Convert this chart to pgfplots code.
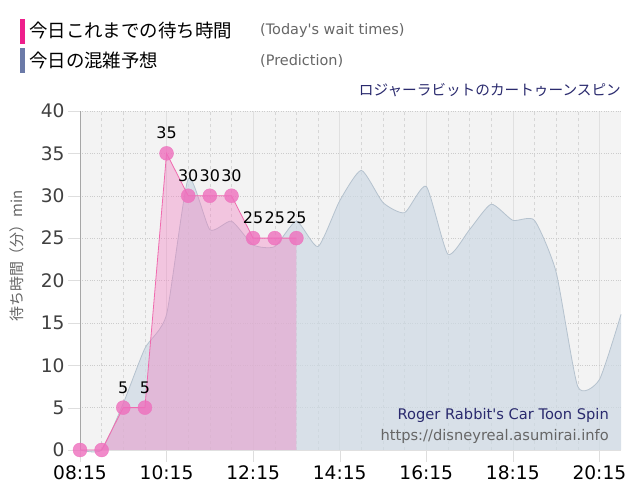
\documentclass[border=0pt]{standalone}
\usepackage{pgfplots}
\pgfplotsset{compat=1.18}
\usepackage{fontspec}
\setmainfont{DejaVu Sans}[Ligatures=TeXOff]
\newfontfamily\jp{Noto Sans CJK JP}

\definecolor{bgc}{HTML}{F3F3F3}
\definecolor{predfill}{HTML}{CDD9E4}
\definecolor{predline}{HTML}{B5C2CE}
\definecolor{actfill}{HTML}{F27CBF}
\definecolor{actline}{HTML}{F06AAE}
\definecolor{actmark}{HTML}{EE6FBD}
\definecolor{legpink}{HTML}{EE1F8C}
\definecolor{legblue}{HTML}{6B7AA8}
\definecolor{navy}{HTML}{2A2A6E}
\definecolor{txtgray}{HTML}{666666}

\begin{document}
\begin{tikzpicture}[x=1bp,y=1bp]
\path[use as bounding box, fill=white] (0,0) rectangle (640,500);

% header legend
\fill[legpink] (20,456) rectangle (25,481);
\fill[legblue] (20,427) rectangle (25,452);
\node[anchor=west, inner sep=0, font=\jp\fontsize{18.5}{20}\selectfont] at (29,469) {今日これまでの待ち時間};
\node[anchor=west, inner sep=0, font=\fontsize{14.5}{16}\selectfont, text=txtgray] at (260,469) {(Today's wait times)};
\node[anchor=west, inner sep=0, font=\jp\fontsize{18.5}{20}\selectfont] at (29,439) {今日の混雑予想};
\node[anchor=west, inner sep=0, font=\fontsize{14.5}{16}\selectfont, text=txtgray] at (260,439) {(Prediction)};
\node[anchor=east, inner sep=0, font=\jp\fontsize{14.7}{16}\selectfont, text=navy] at (621,410) {ロジャーラビットのカートゥーンスピン};
\node[rotate=90, inner sep=0, font=\jp\fontsize{15}{17}\selectfont, text=txtgray] at (17,244) {待ち時間（分）min};

\begin{axis}[
    at={(80bp,50bp)}, anchor=south west,
    scale only axis,
    width=541bp, height=339bp,
    xmin=8.25, xmax=20.75,
    ymin=0, ymax=40,
    clip=false,
    axis background/.style={fill=bgc},
    axis x line*=bottom,
    axis y line*=left,
    axis line style={-},
    x axis line style={draw=black!12},
    y axis line style={draw=black!35},
    xtick={8.25,10.25,12.25,14.25,16.25,18.25,20.25},
    xticklabels={08:15,10:15,12:15,14:15,16:15,18:15,20:15},
    minor x tick num=3,
    ytick={0,5,...,40},
    tick align=outside,
    major tick length=12bp,
    minor tick length=0pt,
    tick style={draw=black!13},
    /pgf/number format/assume math mode=true,
    x tick label style={font=\fontsize{18.7}{20}\selectfont, text=black},
    y tick label style={font=\fontsize{18.7}{20}\selectfont, text=black!75},
    xmajorgrids, xminorgrids, ymajorgrids,
    major x grid style={draw=black!12},
    minor x grid style={draw=black!16, dashed},
    y grid style={draw=black!20, dotted},
]

% prediction
\pgfplotstableread{
t   v
8.25 0
8.75 0
9.25 5.5
9.75 12
10.25 16
10.75 32
11.25 26
11.75 27
12.25 24.2
12.75 24
13.25 27
13.75 24
14.25 29.4
14.75 33
15.25 29.2
15.75 28
16.25 31.1
16.75 23.1
17.25 26
17.75 29
18.25 27.1
18.75 27.1
19.25 21
19.75 7.5
20.25 8.3
20.75 16
}\pred
\addplot[smooth, tension=0.35, draw=none, fill=predfill, fill opacity=0.7] table[x=t, y=v] {\pred} \closedcycle;
\addplot[smooth, tension=0.35, draw=predline, line width=0.8pt] table[x=t, y=v] {\pred};

% today's wait times
\pgfplotstableread{
t   v   lab
8.25 0 {}
8.75 0 {}
9.25 5 5
9.75 5 5
10.25 35 35
10.75 30 30
11.25 30 30
11.75 30 30
12.25 25 25
12.75 25 25
13.25 25 25
}\act
\addplot[draw=none, fill=actfill, fill opacity=0.38] table[x=t, y=v] {\act} \closedcycle;
\addplot[draw=actline, line width=0.8pt] table[x=t, y=v] {\act};

\addplot[actmark, only marks, mark=*, mark size=7bp,
    mark options={fill=actmark, draw=actmark, opacity=0.8},
    point meta=explicit symbolic,
    nodes near coords,
    every node near coord/.append style={anchor=south, inner sep=0pt, yshift=14bp,
        font=\fontsize{16}{18}\selectfont, text=black, opacity=1},
] table[x=t, y=v, meta=lab] {\act};
\end{axis}

% footer inside plot
\node[anchor=east, inner sep=0, font=\fontsize{14.7}{16}\selectfont, text=navy] at (609,85) {Roger Rabbit's Car Toon Spin};
\node[anchor=east, inner sep=0, font=\fontsize{14.7}{16}\selectfont, text=txtgray] at (609,64) {https://disneyreal.asumirai.info};
\end{tikzpicture}
\end{document}
